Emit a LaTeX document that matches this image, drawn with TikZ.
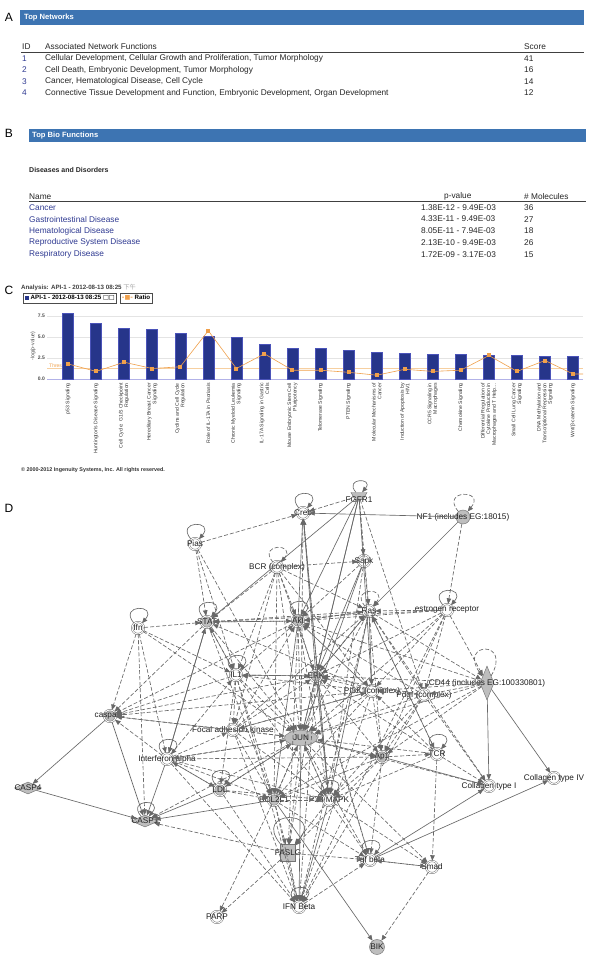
\documentclass[tikz,border=0pt]{standalone}
\usepackage{fontspec}
\setmainfont{Liberation Sans}
\newfontfamily\cjkfont{Noto Sans CJK SC}
\newfontfamily\symfont{DejaVu Sans}
\usetikzlibrary{arrows.meta,positioning,shapes.geometric}
\definecolor{hdrblue}{HTML}{3D74B2}
\definecolor{linkblue}{HTML}{2F3A92}
\definecolor{barnavy}{HTML}{26358A}
\definecolor{ratioorange}{HTML}{F0A04B}
\definecolor{threshorange}{HTML}{F6CFA0}
\definecolor{edgegray}{HTML}{686868}
\definecolor{nodegray}{HTML}{BEBEBE}
\definecolor{nodeline}{HTML}{737373}
\definecolor{gridgray}{HTML}{E4E4E4}
\tikzset{
  paneltag/.style={font=\fontsize{12}{12}\selectfont,inner sep=0pt},
  hdrtext/.style={anchor=west,inner sep=0pt,text=white,font=\bfseries\fontsize{7.6}{8}\selectfont},
  cell/.style={anchor=west,inner sep=0pt,text=black!85,font=\fontsize{8.3}{10}\selectfont},
  xlbl/.style={rotate=90,anchor=east,align=right,inner sep=0pt,text=black!80,font=\fontsize{5.1}{5.6}\selectfont},
  ytick/.style={anchor=east,inner sep=0pt,text=black!70,font=\bfseries\fontsize{5}{5}\selectfont},
  legbox/.style={draw=black!70,line width=0.7pt,inner sep=2pt,minimum height=10pt,font=\bfseries\fontsize{6.2}{6.5}\selectfont},
  mol/.style={circle,draw=nodeline,double=white,double distance=0.9pt,line width=0.5pt,fill=white,minimum size=12pt,inner sep=0pt},
  molg/.style={mol,fill=nodegray},
  lbl/.style={inner sep=0pt,text=black!88,font=\fontsize{8.2}{9}\selectfont},
  dline/.style={draw=edgegray,line width=0.65pt,dash pattern=on 4pt off 2pt,-{Triangle[length=5.5pt,width=4.5pt]}},
  sline/.style={draw=edgegray,line width=0.65pt,-{Triangle[length=5.5pt,width=4.5pt]}},
  selfloop/.style={out=130,in=50,looseness=8,min distance=16pt}
}
\begin{document}
\begin{tikzpicture}[x=1pt,y=-1pt]
\useasboundingbox (0,0) rectangle (600,959);
\fill[white] (0,0) rectangle (600,959);

% A: top networks
\node[paneltag] (tagA) at (9,17) {A};
\fill[hdrblue] (20,10) rectangle (584,25);
\node[hdrtext] (hdrA) at (24,17.5) {Top Networks};
\node[cell] (idA) at (22,47) {ID};
\node[cell] (fnA) at (45,47) {Associated Network Functions};
\node[cell] (scA) at (524,47) {Score};
\draw[black!75,line width=0.6pt] (21,52) -- (584,52);
\foreach \fn/\sc [count=\i] in {{Cellular Development, Cellular Growth and Proliferation, Tumor Morphology}/41,
  {Cell Death, Embryonic Development, Tumor Morphology}/16,
  {Cancer, Hematological Disease, Cell Cycle}/14,
  {Connective Tissue Development and Function, Embryonic Development, Organ Development}/12}{
  \node[cell,text=linkblue] (id\i) at (22,{47+\i*11.5}) {\i};
  \node[cell] (fn\i) at (45,{47+\i*11.5}) {\fn};
  \node[cell] (sc\i) at (524,{47+\i*11.5}) {\sc};
}

% B: top bio functions
\node[paneltag] (tagB) at (9,133) {B};
\fill[hdrblue] (29,129) rectangle (586,142);
\node[hdrtext] (hdrB) at (32,135.5) {Top Bio Functions};
\node[cell,font=\bfseries\fontsize{7}{8}\selectfont] (dis) at (29,170) {Diseases and Disorders};
\node[cell] (nmB) at (29,196.5) {Name};
\node[cell] (pvB) at (444,196.5) {p-value};
\node[cell] (molB) at (524,196.5) {\# Molecules};
\draw[black!75,line width=0.6pt] (29,201) -- (586,201);
\foreach \nm/\pv/\nmol [count=\i] in {Cancer/{1.38E-12 - 9.49E-03}/36,
  {Gastrointestinal Disease}/{4.33E-11 - 9.49E-03}/27,
  {Hematological Disease}/{8.05E-11 - 7.94E-03}/18,
  {Reproductive System Disease}/{2.13E-10 - 9.49E-03}/26,
  {Respiratory Disease}/{1.72E-09 - 3.17E-03}/15}{
  \node[cell,text=linkblue] (nm\i) at (29,{195.5+\i*11.8}) {\nm};
  \node[cell] (pv\i) at (421,{195.5+\i*11.8}) {\pv};
  \node[cell] (nmol\i) at (524,{195.5+\i*11.8}) {\nmol};
}

% C: canonical pathways chart
\node[paneltag] (tagC) at (9,290) {C};
\node[anchor=west,inner sep=0pt,text=black!75,font=\bfseries\fontsize{6.2}{7}\selectfont] (title) at (21,288)
  {Analysis: API-1 - 2012-08-13 08:25 {\color{black!35}\cjkfont\mdseries 下午}};
\node[legbox,anchor=west] (leg1) at (23,298) {{\color{barnavy}\rule{3.6pt}{3.6pt}} API-1 - 2012-08-13 08:25 {\symfont\mdseries □□}};
\node[legbox,right=2.5pt of leg1] (leg2) {{\symfont\color{ratioorange}-■-} Ratio};
\foreach \v in {2.5,5.0,7.5} \draw[gridgray,line width=0.5pt] (47,{379-\v*8.4}) -- (583,{379-\v*8.4});
\draw[black!30!blue!30,line width=0.8pt] (47,379) -- (583,379);
\foreach \v in {0.0,2.5,5.0,7.5} \node[ytick] at (45,{379-\v*8.4}) {\v};
\node[rotate=90,inner sep=0pt,text=black!70,font=\fontsize{5.2}{5}\selectfont] (ylab) at (33,346) {-log(p-value)};
\draw[threshorange,line width=0.7pt] (47,368) -- (583,368);
\node[anchor=west,inner sep=0pt,text=ratioorange,font=\fontsize{5}{5}\selectfont] (thr) at (49,366) {Threshold};
\foreach \v [count=\i] in {7.8,6.6,6.0,5.9,5.4,5.1,5.0,4.2,3.7,3.65,3.4,3.25,3.1,2.95,2.95,2.85,2.85,2.75,2.75}
  \filldraw[fill=barnavy,draw=blue!25!barnavy!80,line width=0.4pt] ({68+(\i-1)*28.06-5.5},379) rectangle ({68+(\i-1)*28.06+5.5},{379-\v*8.4});
\draw[ratioorange,line width=0.6pt] (68,363.9) -- (96.1,371.4) -- (124.1,362.2) -- (152.2,368.5) -- (180.2,366.8)
  -- (208.3,330.7) -- (236.4,368.5) -- (264.4,353.8) -- (292.5,370.2) -- (320.5,370.2) -- (348.6,372.3)
  -- (376.7,375.2) -- (404.7,369.3) -- (432.8,371.4) -- (460.8,370.2) -- (488.9,355.5) -- (517,371.4)
  -- (545,360.5) -- (573.1,374) -- (583,374);
\foreach \r [count=\i] in {1.8,0.9,2.0,1.25,1.45,5.75,1.25,3.0,1.05,1.05,0.8,0.45,1.15,0.9,1.05,2.8,0.9,2.2,0.6}
  \fill[ratioorange] ({68+(\i-1)*28.06-2},{379-\r*8.4-2}) rectangle ++(4,4);
\foreach \t [count=\i] in {{p53 Signaling},{Huntington's Disease Signaling},{Cell Cycle: G1/S Checkpoint\\Regulation},
  {Hereditary Breast Cancer\\Signaling},{Cyclins and Cell Cycle\\Regulation},{Role of IL-17A in Psoriasis},
  {Chronic Myeloid Leukemia\\Signaling},{IL-17A Signaling in Gastric\\Cells},{Mouse Embryonic Stem Cell\\Pluripotency},
  {Telomerase Signaling},{PTEN Signaling},{Molecular Mechanisms of\\Cancer},{Induction of Apoptosis by\\HIV1},
  {CCR5 Signaling in\\Macrophages},{Chemokine Signaling},
  {Differential Regulation of\\Cytokine Production in\\Macrophages and T Help\ldots},
  {Small Cell Lung Cancer\\Signaling},{DNA Methylation and\\Transcriptional Repression\\Signaling},
  {Wnt/β-catenin Signaling}}
  \node[xlbl] (xl\i) at ({68+(\i-1)*28.06},383) {\t};
\node[anchor=west,inner sep=0pt,text=black!80,font=\bfseries\fontsize{5.4}{6}\selectfont] (copy) at (21,470)
  {© 2000-2012 Ingenuity Systems, Inc. All rights reserved.};

% D: network
\node[paneltag] (tagD) at (9,508) {D};
\filldraw[fill=nodegray,draw=nodeline,line width=0.45pt] (351,492.5) -- (367,492.5) -- (363,499.5) -- (355,499.5) -- cycle;
\node[inner sep=0pt,minimum width=16pt,minimum height=7pt,label={[lbl,yshift=-4pt]center:FGFR1}] (fgfr) at (359,496) {};
\node[mol,label={[lbl]center:Creb}] (creb) at (303,513) {};
\node[circle,fill=nodegray,draw=nodeline,line width=0.45pt,minimum size=14pt,inner sep=0pt,
  label={[lbl]center:{NF1 (includes EG:18015)}}] (nf) at (463,517) {};
\node[mol,label={[lbl]center:Pias}] (pias) at (195,544) {};
\node[mol,label={[lbl]center:BCR (complex)}] (bcr) at (277,567) {};
\node[mol,label={[lbl]center:Sapk}] (sapk) at (364,561) {};
\node[mol,label={[lbl]center:Ras}] (ras) at (369,611) {};
\node[mol,label={[lbl]center:estrogen receptor}] (esr) at (447,610) {};
\node[mol,label={[lbl]center:Ifn}] (ifn) at (138,628) {};
\node[molg,label={[lbl]center:STAT}] (stat) at (207,622) {};
\node[molg,label={[lbl]center:Akt}] (akt) at (298,621) {};
\node[mol,label={[lbl]center:IL1}] (ilone) at (236,675) {};
\node[molg,label={[lbl]center:ERK}] (erk) at (316,676) {};
\node[mol,label={[lbl]center:PI3K (complex)}] (pik) at (372,691) {};
\node[mol,label={[lbl]center:Pdgf (complex)}] (pdgf) at (424,695) {};
\node[diamond,aspect=0.4,fill=nodegray,draw=nodeline,line width=0.45pt,minimum width=14pt,minimum height=34pt,
  inner sep=0pt,label={[lbl]center:CD44 (includes EG:100330801)}] (cd) at (487,683) {};
\node[molg,label={[lbl]center:caspase}] (casp) at (110,716) {};
\node[mol,label={[lbl]center:Focal adhesion kinase}] (fak) at (233,730) {};
\node[ellipse,fill=nodegray,draw=nodeline,line width=0.45pt,minimum width=33pt,minimum height=15pt,
  inner sep=0pt,lbl] (jun) at (301,738) {JUN};
\node[mol,label={[lbl]center:Interferon alpha}] (ifna) at (167,759) {};
\node[molg,label={[lbl]center:Ap1}] (apone) at (382,757) {};
\node[mol,label={[lbl]center:TCR}] (tcr) at (437,754) {};
\node[molg,label={[lbl]center:LDL}] (ldl) at (220,790) {};
\node[molg,label={[lbl]center:BCL2L1}] (bcl) at (274,800) {};
\node[mol,label={[lbl]center:P38 MAPK}] (pmapk) at (329,800) {};
\node[mol,label={[lbl]center:Collagen type I}] (colone) at (489,786) {};
\node[mol,label={[lbl]center:Collagen type IV}] (colfour) at (554,778) {};
\node[diamond,aspect=2.3,fill=nodegray,draw=nodeline,line width=0.45pt,minimum width=27pt,minimum height=12pt,
  inner sep=0pt,label={[lbl]center:CASP4}] (caspfour) at (28,788) {};
\node[diamond,aspect=2.3,fill=nodegray,draw=nodeline,line width=0.45pt,minimum width=27pt,minimum height=12pt,
  inner sep=0pt,label={[lbl]center:CASP1}] (caspone) at (145,821) {};
\node[rectangle,fill=nodegray,draw=nodeline,line width=0.45pt,minimum width=15pt,minimum height=17pt,
  inner sep=0pt,label={[lbl]center:FASLG}] (faslg) at (288,853) {};
\node[mol,label={[lbl]center:Tgf beta}] (tgfb) at (370,860) {};
\node[mol,label={[lbl]center:Smad}] (smad) at (432,867) {};
\node[mol,label={[lbl]center:PARP}] (parp) at (217,917) {};
\node[mol,label={[lbl]center:IFN Beta}] (ifnb) at (299,907) {};
\node[circle,fill=nodegray,draw=nodeline,line width=0.45pt,minimum size=15pt,inner sep=0pt,lbl] (bik) at (377,947) {BIK};

% self loops
\foreach \n in {fgfr,creb,pias,stat,akt,ilone,esr,ifn,ifna,tcr,ldl,caspone,ifnb,faslg,tgfb,pmapk}
  \draw[sline] (\n) to[selfloop] (\n);
\foreach \n in {nf,bcr,ras}
  \draw[dline] (\n) to[selfloop] (\n);
\draw[dline] (cd) to[out=60,in=125,min distance=42pt] (cd);

% solid relations
\foreach \a/\b in {nf/creb,nf/ras,fgfr/akt,fgfr/erk,fgfr/pik,fgfr/stat,fgfr/jun,akt/creb,erk/creb,pmapk/creb,
  sapk/jun,sapk/erk,casp/caspfour,casp/caspone,caspfour/caspone,cd/colone,cd/colfour,bcl/bik,tgfb/colfour,
  tgfb/colone,ifna/stat,jun/apone,apone/colone,akt/bcl,pik/akt,ras/erk,ras/pik,ifna/caspone,bcl/caspone,
  jun/ifnb,pmapk/ifnb,erk/pmapk,ras/pmapk,ilone/erk,stat/ifna,ldl/caspone}
  \draw[sline] (\a) -- (\b);

% dashed relations
\foreach \a/\b in {pias/creb,fgfr/creb,pias/stat,pias/ilone,pias/jun,
  bcr/sapk,bcr/akt,bcr/stat,bcr/ilone,bcr/erk,bcr/ras,bcr/jun,bcr/bcl,bcr/pik,bcr/fak,
  fgfr/ras,fgfr/pdgf,fgfr/sapk,creb/jun,creb/pmapk,nf/esr,
  esr/ras,esr/akt,esr/cd,esr/pik,esr/erk,esr/apone,esr/jun,esr/pdgf,esr/ifnb,esr/stat,
  ifn/stat,ifn/casp,ifn/ilone,ifn/ifna,ifn/jun,ifn/caspone,
  stat/akt,stat/jun,stat/bcl,stat/ilone,stat/casp,
  akt/ras,akt/jun,akt/faslg,akt/pmapk,akt/tgfb,akt/stat,akt/casp,
  sapk/ras,sapk/pmapk,sapk/akt,
  ras/akt,ras/jun,ras/apone,ras/stat,ras/ifnb,ras/tcr,ras/colone,ras/cd,
  ilone/casp,ilone/jun,ilone/fak,ilone/ldl,ilone/bcl,ilone/pmapk,ilone/ifnb,ilone/stat,ilone/akt,
  erk/jun,erk/apone,erk/ilone,erk/faslg,erk/ifnb,erk/ras,erk/tgfb,erk/casp,
  pik/jun,pik/erk,pik/casp,pik/fak,pik/bcl,pik/ifnb,pik/apone,pik/ilone,pik/stat,
  pdgf/pik,pdgf/akt,pdgf/erk,pdgf/ras,pdgf/jun,pdgf/apone,pdgf/colone,pdgf/pmapk,pdgf/ifnb,
  cd/pdgf,cd/pik,cd/apone,cd/akt,cd/jun,cd/erk,cd/bcl,
  fak/casp,fak/akt,fak/erk,fak/jun,fak/pik,fak/ras,fak/ifnb,fak/bcl,fak/pmapk,
  jun/casp,jun/ifna,jun/ldl,jun/bcl,jun/pmapk,jun/faslg,jun/tgfb,jun/smad,jun/caspone,jun/colone,
  ifna/casp,ifna/ilone,ifna/jun,ifna/pmapk,ifna/bcl,ifna/ifnb,ifna/fak,ifna/ldl,ifna/apone,
  apone/tcr,apone/pmapk,apone/bcl,apone/tgfb,apone/faslg,
  tcr/pik,tcr/jun,tcr/colone,tcr/erk,tcr/ras,tcr/smad,tcr/pmapk,
  ldl/bcl,ldl/ifnb,ldl/ifna,ldl/jun,ldl/pmapk,
  bcl/pmapk,bcl/faslg,bcl/parp,bcl/ifnb,bcl/tgfb,bcl/jun,
  pmapk/tgfb,pmapk/faslg,pmapk/jun,pmapk/smad,
  faslg/caspone,faslg/parp,faslg/ifnb,faslg/tgfb,
  tgfb/smad,smad/tgfb,smad/bik,ifnb/tgfb}
  \draw[dline] (\a) -- (\b);
\end{tikzpicture}
\end{document}
